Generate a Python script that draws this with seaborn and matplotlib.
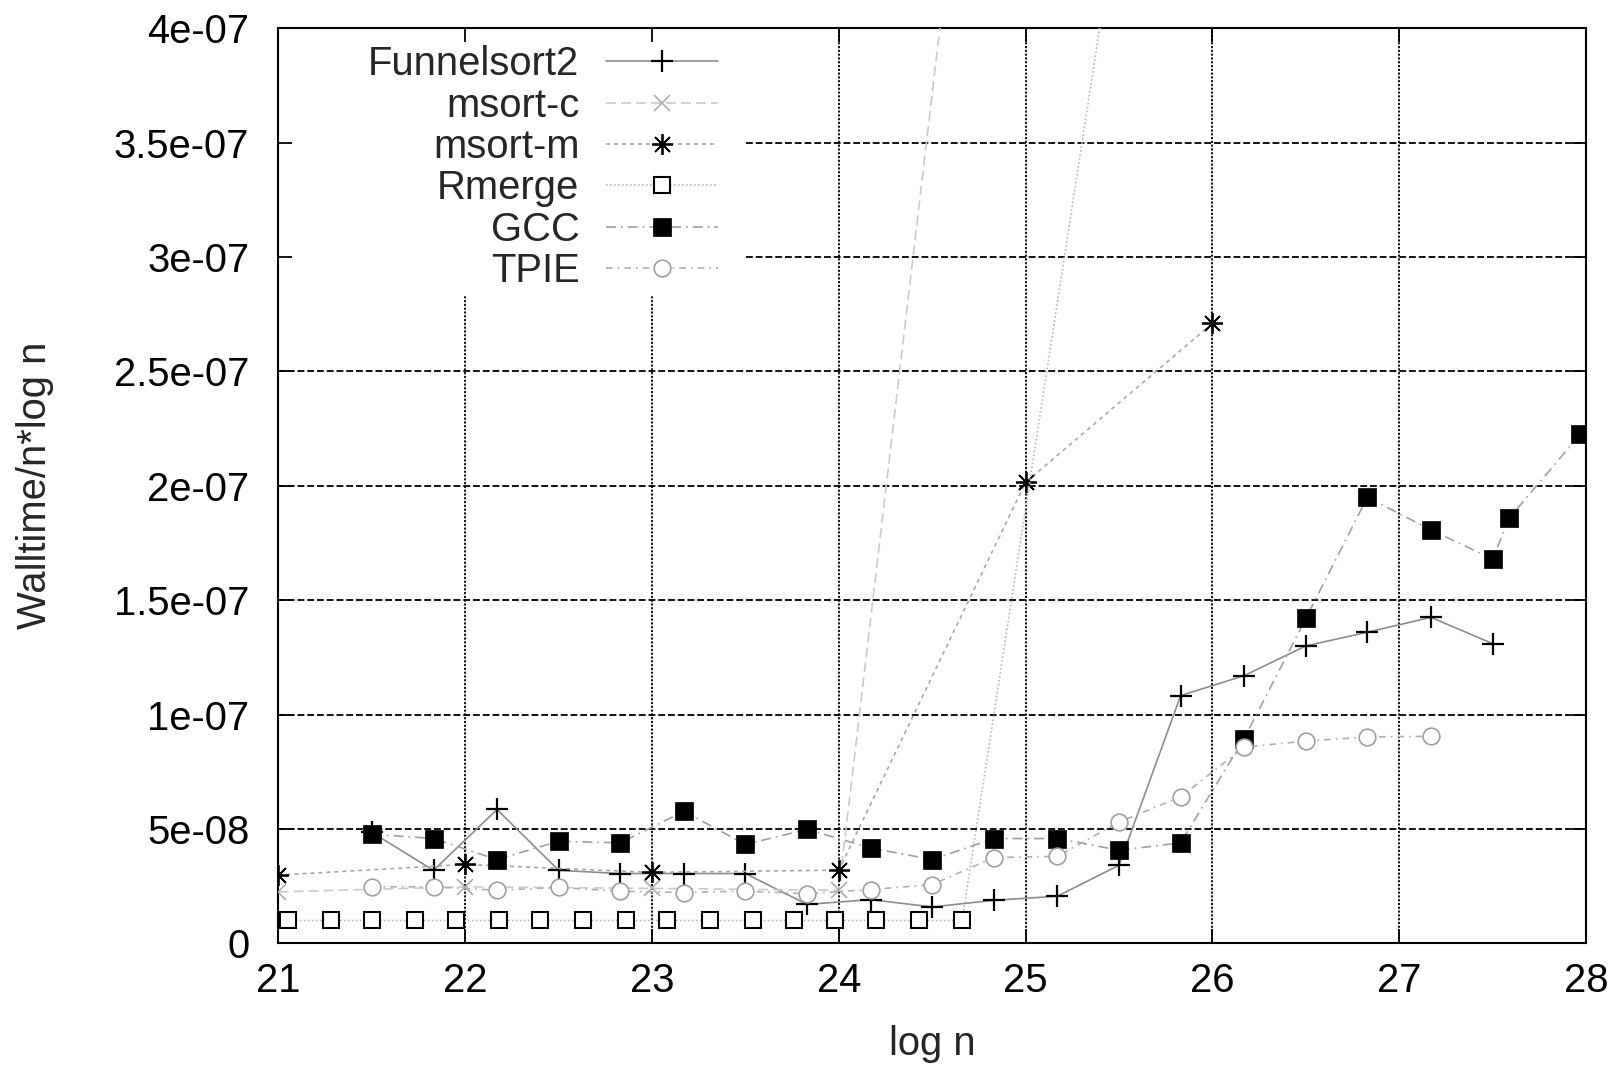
import matplotlib
matplotlib.use("Agg")
import matplotlib.pyplot as plt
from matplotlib.patches import Rectangle
import numpy as np
import seaborn as sns

# ---------------- data (values in units of 1e-8) ----------------
funnel_x = [21.5, 21.83, 22.17, 22.5, 22.83, 23.17, 23.5, 23.83, 24.17, 24.5,
            24.83, 25.17, 25.5, 25.83, 26.17, 26.5, 26.83, 27.17, 27.5]
funnel_y = [4.85, 3.19, 5.85, 3.19, 3.05, 3.05, 3.05, 1.70, 1.91, 1.59,
            1.88, 2.06, 3.41, 10.83, 11.70, 13.00, 13.60, 14.25, 13.10]

msortc_x = [21, 22, 23, 24, 25]
msortc_y = [2.25, 2.47, 2.40, 2.32, 72.0]

msortm_x = [21, 22, 23, 24, 25, 26]
msortm_y = [2.98, 3.45, 3.10, 3.20, 20.15, 27.10]

rmerge_x = [21.05, 21.28, 21.50, 21.73, 21.95, 22.18, 22.40, 22.63, 22.86,
            23.08, 23.31, 23.54, 23.76, 23.98, 24.20, 24.43, 24.66, 25.50]
rmerge_y = [1.0, 1.0, 1.0, 1.0, 1.0, 1.0, 1.0, 1.0, 1.0,
            1.0, 1.0, 1.0, 1.0, 1.0, 1.0, 1.0, 1.0, 45.5]

gcc_x = [21.5, 21.83, 22.17, 22.5, 22.83, 23.17, 23.5, 23.83, 24.17, 24.5,
         24.83, 25.17, 25.5, 25.83, 26.17, 26.5, 26.83, 27.17, 27.5, 27.59, 27.97]
gcc_y = [4.77, 4.58, 3.66, 4.46, 4.39, 5.77, 4.32, 4.98, 4.17, 3.66,
         4.58, 4.58, 4.07, 4.39, 8.95, 14.20, 19.50, 18.07, 16.80, 18.60, 22.25]

tpie_x = [21.5, 21.83, 22.17, 22.5, 22.83, 23.17, 23.5, 23.83, 24.17, 24.5,
          24.83, 25.17, 25.5, 25.83, 26.17, 26.5, 26.83, 27.17]
tpie_y = [2.47, 2.47, 2.32, 2.44, 2.28, 2.22, 2.28, 2.17, 2.35, 2.57,
          3.75, 3.80, 5.30, 6.40, 8.58, 8.84, 9.02, 9.05]

SCALE = 1e-8

x_ticks = [21, 22, 23, 24, 25, 26, 27, 28]
y_ticks = [0, 5e-8, 1e-7, 1.5e-7, 2e-7, 2.5e-7, 3e-7, 3.5e-7, 4e-7]
y_tick_labels = ["0", "5e-08", "1e-07", "1.5e-07", "2e-07", "2.5e-07",
                 "3e-07", "3.5e-07", "4e-07"]

# ---------------- style ----------------
sns.set_style("ticks")
plt.rcParams["font.family"] = ["Liberation Sans", "DejaVu Sans"]
FS = 28.8

fig = plt.figure(figsize=(16.2, 10.7), dpi=100)
ax = fig.add_axes([0.1719, 0.1184, 0.979 - 0.1719, 0.9736 - 0.1184])
ax.set_axisbelow(True)

series = [
    dict(x=funnel_x, y=funnel_y, label="Funnelsort2", color="#8c8c8c", ls="-",
         marker="+", ms=16, mfc="black", mec="black", mew=1.6),
    dict(x=msortc_x, y=msortc_y, label="msort-c", color="#cacaca", ls=(0, (6, 3)),
         marker="x", ms=11, mfc="#a8a8a8", mec="#a8a8a8", mew=1.1),
    dict(x=msortm_x, y=msortm_y, label="msort-m", color="#a8a8a8", ls=(0, (2.4, 2.4)),
         marker=(8, 2, 0), ms=15, mfc="black", mec="black", mew=1.3),
    dict(x=rmerge_x, y=rmerge_y, label="Rmerge", color="#b8b8b8", ls=(0, (1, 1.4)),
         marker="s", ms=11.5, mfc="white", mec="black", mew=1.5),
    dict(x=gcc_x, y=gcc_y, label="GCC", color="#a0a0a0", ls=(0, (6, 3, 1, 3)),
         marker="s", ms=13, mfc="black", mec="black", mew=0.5),
    dict(x=tpie_x, y=tpie_y, label="TPIE", color="#b0b0b0", ls=(0, (4, 3, 1, 3)),
         marker="o", ms=12, mfc="white", mec="#a0a0a0", mew=1.2),
]

for s in series:
    yv = [v * SCALE for v in s["y"]]
    sns.lineplot(x=s["x"], y=yv, ax=ax, sort=False, estimator=None,
                 label=s["label"], color=s["color"], linestyle=s["ls"],
                 linewidth=1.2, marker=s["marker"], markersize=s["ms"],
                 markerfacecolor=s["mfc"], markeredgecolor=s["mec"],
                 markeredgewidth=s["mew"], zorder=3)

ax.set_xlim(21, 28)
ax.set_ylim(0, 4e-7)
ax.set_xticks(x_ticks)
ax.set_xticklabels([str(t) for t in x_ticks])
ax.set_yticks(y_ticks)
ax.set_yticklabels(y_tick_labels)

# grid lines (gnuplot style) drawn below a white legend backdrop
for xt in x_ticks[1:-1]:
    ax.axvline(xt, color="black", lw=1.3, ls=(0, (1.2, 0.9)), zorder=0.3)
for yt in y_ticks[1:-1]:
    ax.axhline(yt, color="black", lw=1.3, ls=(0, (3.8, 1.6)), zorder=0.3)

ax.add_patch(Rectangle((0, 0.709), 0.356, 0.291, transform=ax.transAxes,
                       facecolor="white", edgecolor="none", zorder=0.4))

ax.tick_params(axis="both", direction="in", top=True, right=True,
               length=10, width=1.3, labelsize=FS, colors="black")
ax.tick_params(axis="x", pad=13.5)
ax.tick_params(axis="y", pad=21)
for sp in ax.spines.values():
    sp.set_visible(True)
    sp.set_linewidth(1.5)
    sp.set_color("black")

ax.set_xlabel("log n", fontsize=FS)
ax.set_ylabel("Walltime/n*log n", fontsize=FS)
ax.xaxis.set_label_coords(0.5, -0.0893)
ax.yaxis.set_label_coords(-0.172, 0.5)

leg = ax.legend(loc="upper right", bbox_to_anchor=(0.336, 0.9815),
                frameon=False, markerfirst=False, fontsize=FS,
                handlelength=2.8, handletextpad=0.66, labelspacing=0.085,
                borderpad=0, borderaxespad=0, numpoints=1)
leg.set_zorder(5)

fig.savefig("out.png", dpi=100)
